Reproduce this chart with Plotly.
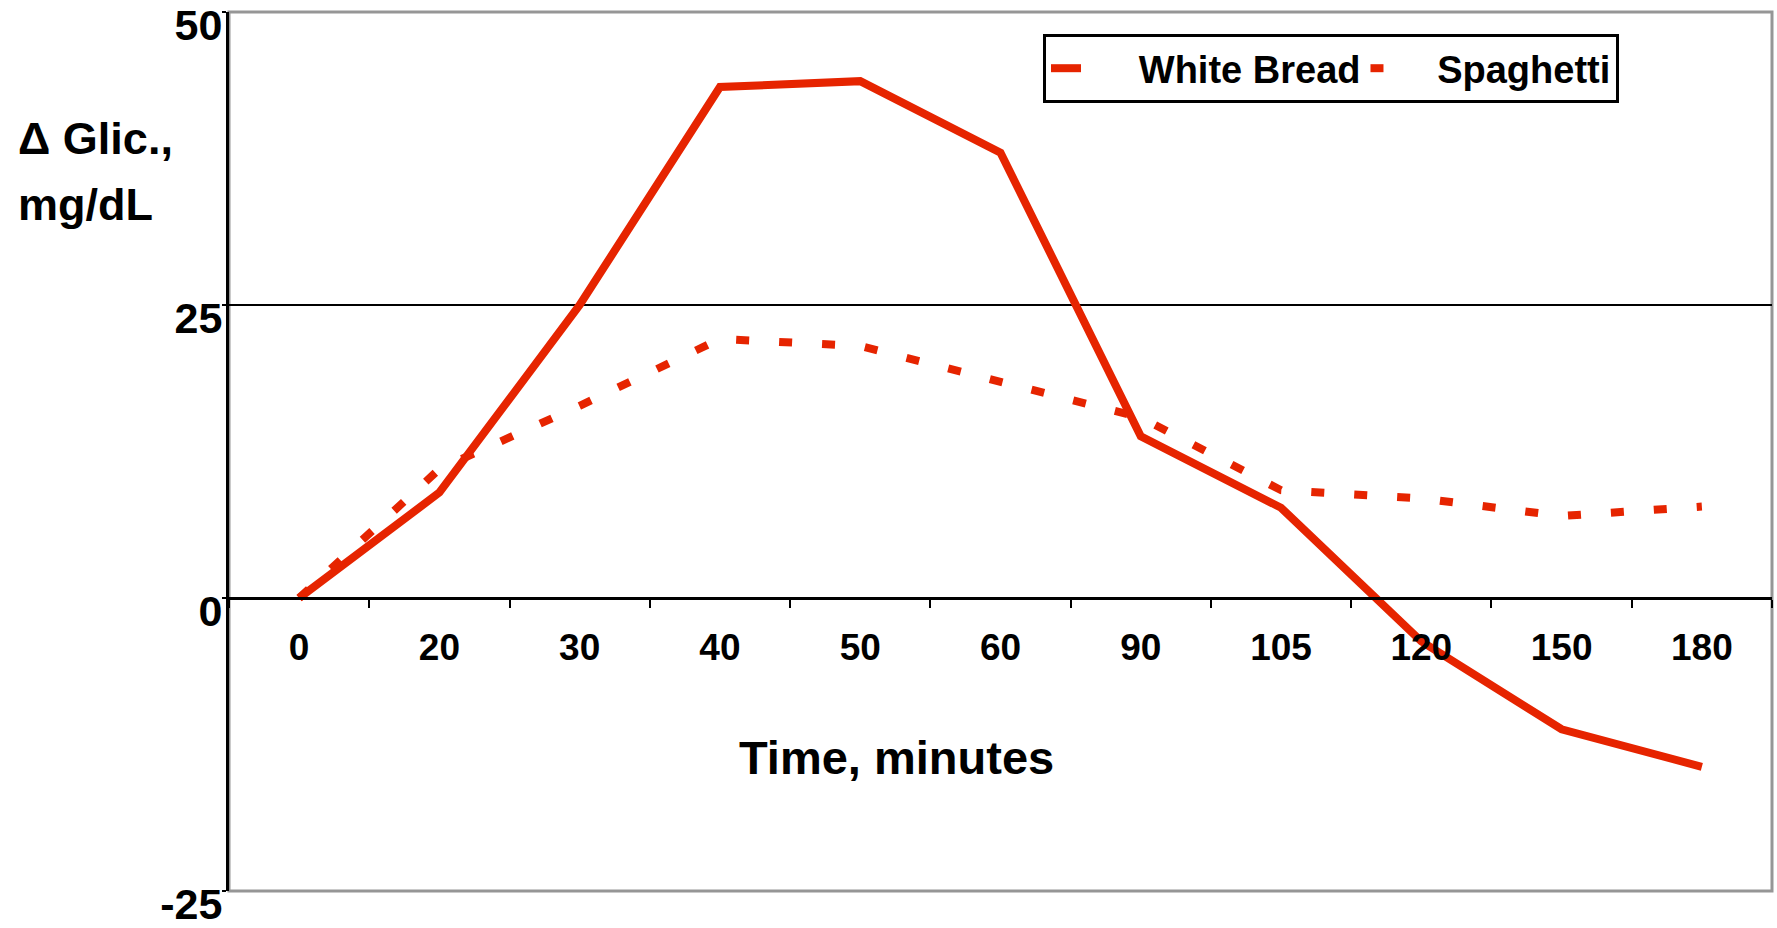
import plotly.graph_objects as go

# ---- data ----
time_labels = ["0", "20", "30", "40", "50", "60", "90", "105", "120", "150", "180"]
white_bread = [0.0, 9.0, 25.0, 43.6, 44.1, 38.0, 13.8, 7.7, -3.7, -11.2, -14.4]
spaghetti = [0.0, 11.0, 16.4, 22.1, 21.5, 18.4, 15.4, 9.2, 8.5, 7.0, 7.8]
series_names = ["White Bread", "Spaghetti"]
y_ticks = [-25, 0, 25, 50]
y_tick_text = ["-25", "0", "25", "50"]
ref_line_value = 25

RED = "rgb(230,36,0)"
FONT = "Liberation Sans, Arial, sans-serif"
NBSP = "\u00a0"

W, H = 1777, 928
ML, MR, MT, MB = 229, 5, 12, 37
PW = W - ML - MR
PH = H - MT - MB


def px_x(x_screen):
    return (x_screen - ML) / PW


def px_y(y_screen):
    return (H - MB - y_screen) / PH


fig = go.Figure()
fig.add_trace(go.Scatter(
    x=time_labels, y=white_bread, mode="lines", name=NBSP * 5 + series_names[0],
    line=dict(color=RED, width=8),
))
fig.add_trace(go.Scatter(
    x=time_labels, y=spaghetti, mode="lines", name=NBSP * 3 + series_names[1],
    line=dict(color=RED, width=8, dash="13px,30px"),
))

fig.update_layout(
    width=W, height=H,
    margin=dict(l=ML, r=MR, t=MT, b=MB),
    paper_bgcolor="white", plot_bgcolor="white",
    font=dict(family=FONT, color="black", size=38, weight="bold"),
    showlegend=True,
    legend=dict(
        orientation="h", x=px_x(1043), y=px_y(34), xanchor="left", yanchor="top",
        bordercolor="black", borderwidth=3, bgcolor="white",
        font=dict(family=FONT, size=38, color="black", weight="bold"),
        tracegroupgap=0,
    ),
    xaxis=dict(
        type="category", range=[-0.5, len(time_labels) - 0.5],
        anchor="free", position=(0 - y_ticks[0]) / (y_ticks[-1] - y_ticks[0]),
        showline=True, linecolor="black", linewidth=3,
        ticks="outside", ticklen=8, tickwidth=2, tickcolor="black",
        tickson="boundaries", showgrid=False, zeroline=False,
        tickfont=dict(family=FONT, size=37, color="black", weight="bold"),
        ticklabelstandoff=16, automargin=False,
    ),
    yaxis=dict(
        range=[y_ticks[0], y_ticks[-1]], tickvals=y_ticks, ticktext=y_tick_text,
        showline=True, linecolor="black", linewidth=3,
        ticks="outside", ticklen=4, tickwidth=2, tickcolor="black",
        showgrid=False, zeroline=False,
        tickfont=dict(family=FONT, size=43, color="black", weight="bold"),
        ticklabelshift=13, ticklabelstandoff=-9, automargin=False,
        ticklabeloverflow="allow",
    ),
    shapes=[
        dict(type="rect", xref="paper", yref="paper", x0=0, x1=1, y0=0, y1=1,
             line=dict(color="rgb(150,150,150)", width=3), layer="below"),
        dict(type="line", xref="paper", yref="y", x0=0, x1=1,
             y0=ref_line_value, y1=ref_line_value,
             line=dict(color="black", width=2), layer="below"),
    ],
    annotations=[
        dict(text="Δ Glic.,", xref="paper", yref="paper",
             x=px_x(16), y=px_y(138), xanchor="left", yanchor="middle",
             align="left", showarrow=False,
             font=dict(family=FONT, size=45, color="black", weight="bold")),
        dict(text="mg/dL", xref="paper", yref="paper",
             x=px_x(16), y=px_y(204), xanchor="left", yanchor="middle",
             align="left", showarrow=False,
             font=dict(family=FONT, size=45, color="black", weight="bold")),
        dict(text="Time, minutes", xref="paper", yref="paper",
             x=px_x(896), y=px_y(757), xanchor="center", yanchor="middle",
             showarrow=False,
             font=dict(family=FONT, size=47, color="black", weight="bold")),
    ],
)

fig.write_html(
    "out.html",
    config={"displayModeBar": False},
    post_script="document.body.style.margin='0';document.body.style.overflow='hidden';",
)
